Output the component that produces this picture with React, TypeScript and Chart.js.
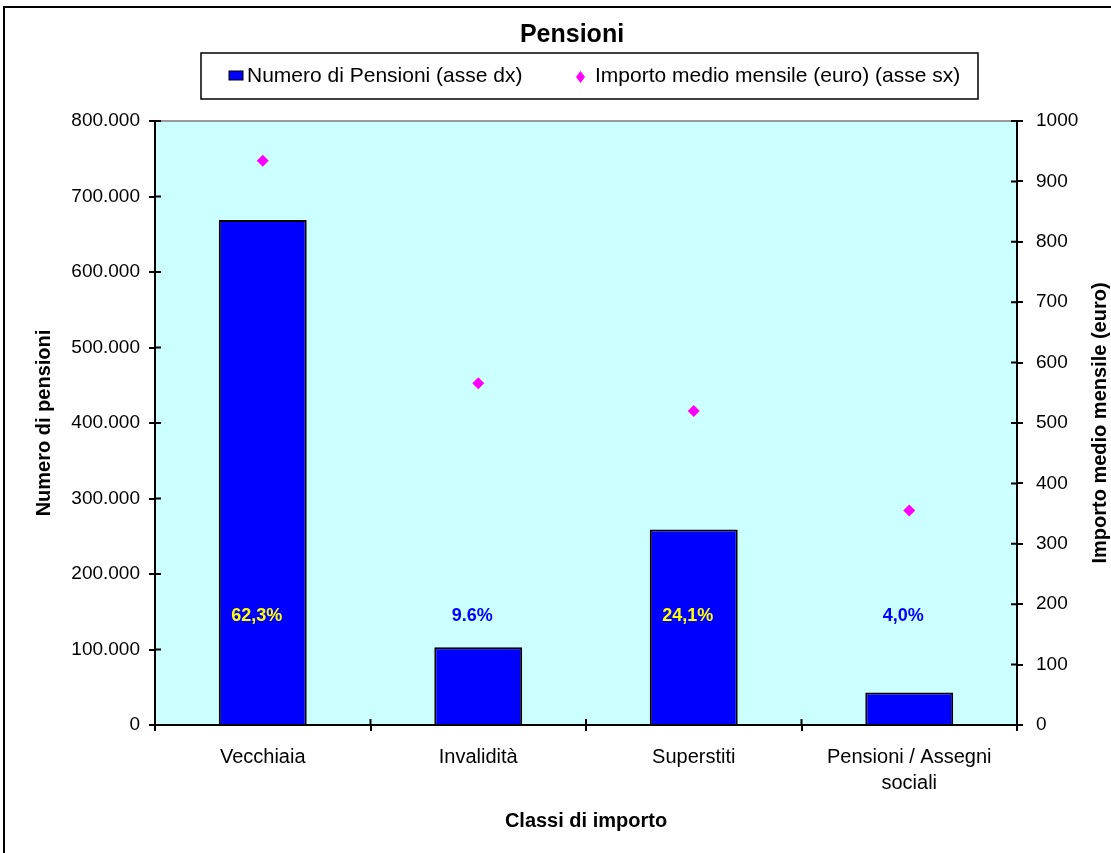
import { useEffect, useRef } from "react";
import { Chart, registerables } from "chart.js";

Chart.register(...registerables);

// Pension categories and values
const categories: (string | string[])[] = [
  "Vecchiaia",
  "Invalidità",
  "Superstiti",
  ["Pensioni / Assegni", "sociali"],
];
const pensionCounts = [669000, 103000, 259000, 43000];
const averageMonthly = [934, 566, 520, 355];
const shareLabels = ["62,3%", "9.6%", "24,1%", "4,0%"];

const chartTitle = "Pensioni";
const barSeriesName = "Numero di Pensioni (asse dx)";
const pointSeriesName = "Importo medio mensile (euro) (asse sx)";
const leftAxisTitle = "Numero di pensioni";
const rightAxisTitle = "Importo medio mensile (euro)";
const xAxisTitle = "Classi di importo";

const FONT = "'Liberation Sans', Arial, Helvetica, sans-serif";

function formatThousands(v: number | string): string {
  return String(Math.round(Number(v))).replace(/\B(?=(\d{3})+(?!\d))/g, ".");
}

const decorPlugin = {
  id: "decor",
  beforeDraw(chart: any) {
    const { ctx, chartArea: a, width, height } = chart;
    ctx.save();
    ctx.fillStyle = "#ffffff";
    ctx.fillRect(0, 0, width, height);
    // outer frame
    ctx.strokeStyle = "#000";
    ctx.lineWidth = 2;
    ctx.beginPath();
    ctx.moveTo(4, height + 5);
    ctx.lineTo(4, 7);
    ctx.lineTo(width + 5, 7);
    ctx.stroke();
    // plot area
    ctx.fillStyle = "#CCFFFF";
    ctx.fillRect(a.left, a.top, a.right - a.left, a.bottom - a.top);
    ctx.strokeStyle = "#9a9a9a";
    ctx.lineWidth = 2;
    ctx.beginPath();
    ctx.moveTo(a.left, a.top);
    ctx.lineTo(a.right, a.top);
    ctx.stroke();
    ctx.restore();
  },
  afterDatasetsDraw(chart: any) {
    const { ctx } = chart;
    const yScale = chart.scales.y;
    const barMeta = chart.getDatasetMeta(0);
    const labelY = yScale.getPixelForValue(144000);
    ctx.save();
    ctx.font = `bold 18px ${FONT}`;
    ctx.textAlign = "center";
    ctx.textBaseline = "middle";
    barMeta.data.forEach((bar: any, i: number) => {
      const inside = bar.y < labelY;
      ctx.fillStyle = inside ? "#FFFF00" : "#0000FF";
      ctx.fillText(shareLabels[i], bar.x - 6, labelY);
    });
    ctx.restore();
  },
  afterDraw(chart: any) {
    const { ctx, chartArea: a } = chart;
    const y = chart.scales.y;
    const y1 = chart.scales.y1;
    const x = chart.scales.x;
    ctx.save();
    // inner tick marks
    ctx.strokeStyle = "#000";
    ctx.lineWidth = 2;
    ctx.beginPath();
    y.ticks.forEach((_t: any, i: number) => {
      const p = y.getPixelForTick(i);
      ctx.moveTo(a.left, p);
      ctx.lineTo(a.left + 6, p);
    });
    y1.ticks.forEach((_t: any, i: number) => {
      const p = y1.getPixelForTick(i);
      ctx.moveTo(a.right - 6, p);
      ctx.lineTo(a.right, p);
    });
    for (let i = 0; i <= categories.length; i++) {
      const p = x.getPixelForValue(i - 0.5);
      ctx.moveTo(p, a.bottom - 6);
      ctx.lineTo(p, a.bottom);
    }
    ctx.stroke();

    // chart title
    ctx.fillStyle = "#000";
    ctx.font = `bold 25px ${FONT}`;
    ctx.textAlign = "center";
    ctx.textBaseline = "middle";
    ctx.fillText(chartTitle, 572, 35);

    // legend
    const barDs = chart.data.datasets[0];
    const ptDs = chart.data.datasets[1];
    ctx.lineWidth = 1.5;
    ctx.strokeStyle = "#000";
    ctx.strokeRect(201, 53, 777, 46);
    ctx.fillStyle = barDs.backgroundColor;
    ctx.fillRect(229, 71, 14, 9);
    ctx.lineWidth = 1;
    ctx.strokeRect(229, 71, 14, 9);
    ctx.fillStyle = "#000";
    ctx.font = `21px ${FONT}`;
    ctx.textAlign = "left";
    ctx.fillText(barSeriesName, 247, 76);
    ctx.fillStyle = ptDs.pointBackgroundColor;
    ctx.beginPath();
    ctx.moveTo(580.5, 71);
    ctx.lineTo(585, 77);
    ctx.lineTo(580.5, 83);
    ctx.lineTo(576, 77);
    ctx.closePath();
    ctx.fill();
    ctx.fillStyle = "#000";
    ctx.fillText(pointSeriesName, 595, 76);

    // right axis title, reading upwards
    ctx.font = `bold 20px ${FONT}`;
    ctx.textAlign = "center";
    ctx.translate(1100, (a.top + a.bottom) / 2);
    ctx.rotate(-Math.PI / 2);
    ctx.fillText(rightAxisTitle, 0, 0);
    ctx.restore();
  },
};

export default function App() {
  const canvasRef = useRef<HTMLCanvasElement | null>(null);

  useEffect(() => {
    const canvas = canvasRef.current;
    if (!canvas) return;
    Chart.defaults.font.family = FONT;
    const axisGrid = {
      drawOnChartArea: false,
      drawTicks: true,
      tickLength: 6,
      color: "#000",
      lineWidth: 2,
    };
    const axisBorder = { display: true, color: "#000", width: 2 };

    const chart = new Chart(canvas, {
      type: "bar",
      data: {
        labels: categories as any,
        datasets: [
          {
            type: "bar",
            label: barSeriesName,
            data: pensionCounts,
            backgroundColor: "#0000FF",
            borderColor: "#000",
            borderWidth: 2,
            barPercentage: 0.408,
            categoryPercentage: 1,
            yAxisID: "y",
            order: 2,
          },
          {
            type: "line",
            label: pointSeriesName,
            data: averageMonthly,
            showLine: false,
            pointStyle: "rectRot",
            pointRadius: 6,
            pointBackgroundColor: "#FF00FF",
            pointBorderColor: "#FF00FF",
            pointBorderWidth: 0,
            yAxisID: "y1",
            order: 1,
          } as any,
        ],
      },
      options: {
        animation: false,
        responsive: false,
        devicePixelRatio: 1,
        layout: { padding: { top: 121, left: 0, right: 0, bottom: 0 } },
        plugins: {
          legend: { display: false },
          title: { display: false },
          tooltip: { enabled: false },
        },
        scales: {
          x: {
            type: "category",
            offset: true,
            grid: { ...axisGrid, offset: true },
            border: axisBorder,
            ticks: {
              color: "#000",
              font: { family: FONT, size: 20, lineHeight: 1.3 },
              padding: 13,
              maxRotation: 0,
              autoSkip: false,
            },
            title: {
              display: true,
              text: xAxisTitle,
              color: "#000",
              font: { family: FONT, size: 20, weight: "bold", lineHeight: 1.2 },
              padding: { top: 0, bottom: 20 },
            },
            afterFit: (s: any) => {
              s.height = 128;
            },
          },
          y: {
            position: "left",
            min: 0,
            max: 800000,
            grid: axisGrid,
            border: axisBorder,
            ticks: {
              stepSize: 100000,
              color: "#000",
              font: { family: FONT, size: 19 },
              padding: 9,
              callback: (v: any) => formatThousands(v),
            },
            title: {
              display: true,
              text: leftAxisTitle,
              color: "#000",
              font: { family: FONT, size: 20, weight: "bold", lineHeight: 1.2 },
              padding: { top: 32, bottom: 0 },
            },
            afterFit: (s: any) => {
              s.width = 155;
            },
          },
          y1: {
            position: "right",
            min: 0,
            max: 1000,
            grid: axisGrid,
            border: axisBorder,
            ticks: {
              stepSize: 100,
              color: "#000",
              font: { family: FONT, size: 19 },
              padding: 13,
              callback: (v: any) => String(v),
            },
            afterFit: (s: any) => {
              s.width = 94;
            },
          },
        },
      } as any,
      plugins: [decorPlugin],
    });
    return () => chart.destroy();
  }, []);

  return (
    <div style={{ position: "fixed", left: 0, top: 0, width: 1111, height: 853 }}>
      <canvas ref={canvasRef} width={1111} height={853} style={{ display: "block" }} />
    </div>
  );
}
